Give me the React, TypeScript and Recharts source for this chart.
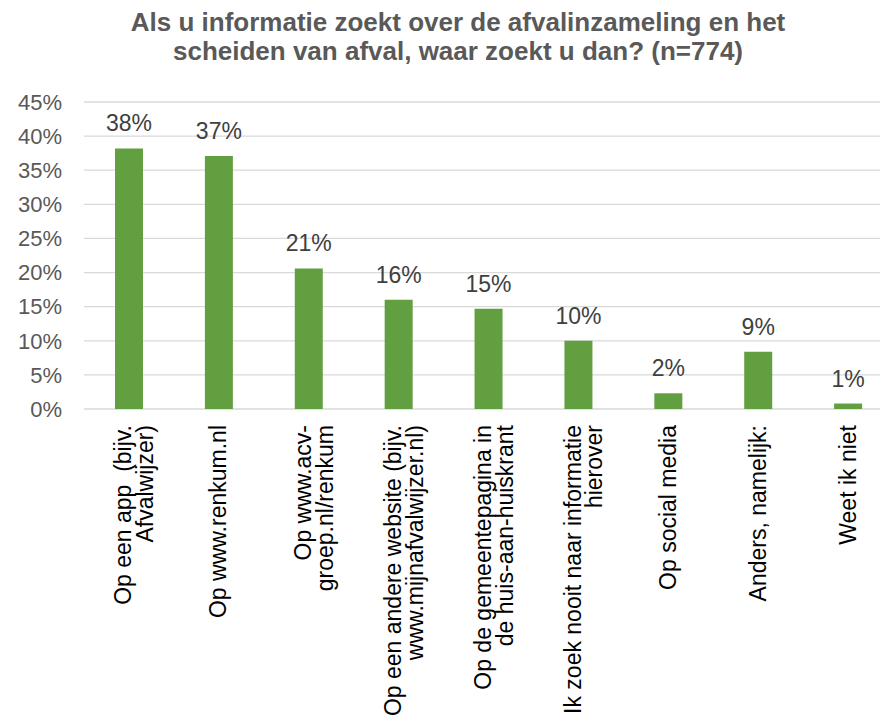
import { BarChart, Bar, XAxis, YAxis, CartesianGrid, LabelList } from "recharts";

const titleLines = [
  "Als u informatie zoekt over de afvalinzameling en het",
  "scheiden van afval, waar zoekt u dan? (n=774)",
];

// categorieen, "\n" = regelovergang in het aslabel
const categories = [
  "Op een app\u00a0 (bijv.\nAfvalwijzer)",
  "Op www.renkum.nl",
  "Op www.acv-\ngroep.nl/renkum",
  "Op een andere website (bijv.\nwww.mijnafvalwijzer.nl)",
  "Op de gemeentepagina in\nde huis-aan-huiskrant",
  "Ik zoek nooit naar informatie\nhierover",
  "Op social media",
  "Anders, namelijk:",
  "Weet ik niet",
];
const shares = [0.382, 0.371, 0.206, 0.16, 0.147, 0.1, 0.023, 0.084, 0.008];
const labels = ["38%", "37%", "21%", "16%", "15%", "10%", "2%", "9%", "1%"];
const yTicks = [0, 0.05, 0.1, 0.15, 0.2, 0.25, 0.3, 0.35, 0.4, 0.45];

const data = categories.map((name, i) => ({ name, value: shares[i], label: labels[i] }));

const FONT = "'Liberation Sans', Arial, sans-serif";

function CategoryTick(props: any) {
  const { x, y, payload } = props;
  const lines: string[] = String(payload.value).split("\n");
  const offsets = lines.length === 1 ? [7.5] : [2.5, 24];
  return (
    <g transform={`translate(${x},${y + 16})`}>
      <text transform="rotate(-90)" textAnchor="end" fontSize={23} fill="#000" fontFamily={FONT} style={{ whiteSpace: "pre" }}>
        {lines.map((l, i) => (
          <tspan key={i} x={0} y={offsets[i]}>
            {l}
          </tspan>
        ))}
      </text>
    </g>
  );
}

export default function App() {
  return (
    <div style={{ position: "relative", margin: -8, width: 888, height: 728, overflow: "hidden", background: "#fff", fontFamily: FONT }}>
      <div
        style={{
          position: "absolute",
          top: 7.5,
          left: 0,
          width: 916,
          textAlign: "center",
          fontSize: 26,
          lineHeight: "29px",
          fontWeight: "bold",
          color: "#595959",
          whiteSpace: "nowrap",
        }}
      >
        {titleLines.map((t, i) => (
          <div key={i}>{t}</div>
        ))}
      </div>
      <BarChart width={893} height={728} data={data} margin={{ top: 102, right: 0, bottom: 0, left: 0 }}>
        <CartesianGrid vertical={false} stroke="#d9d9d9" strokeWidth={1.3} />
        <XAxis
          dataKey="name"
          interval={0}
          height={319}
          axisLine={false}
          tickLine={false}
          tickSize={0}
          tickMargin={0}
          tick={<CategoryTick />}
        />
        <YAxis
          width={84}
          domain={[0, 0.45]}
          ticks={yTicks}
          interval={0}
          axisLine={false}
          tickLine={false}
          tickSize={0}
          tickMargin={22}
          tick={{ fill: "#595959", fontSize: 22, fontFamily: FONT }}
          tickFormatter={(v: number) => `${Math.round(v * 100)}%`}
        />
        <Bar dataKey="value" fill="#629f40" barSize={28} isAnimationActive={false}>
          <LabelList dataKey="label" position="top" offset={17} fill="#404040" fontSize={23} fontFamily={FONT} />
        </Bar>
      </BarChart>
    </div>
  );
}
